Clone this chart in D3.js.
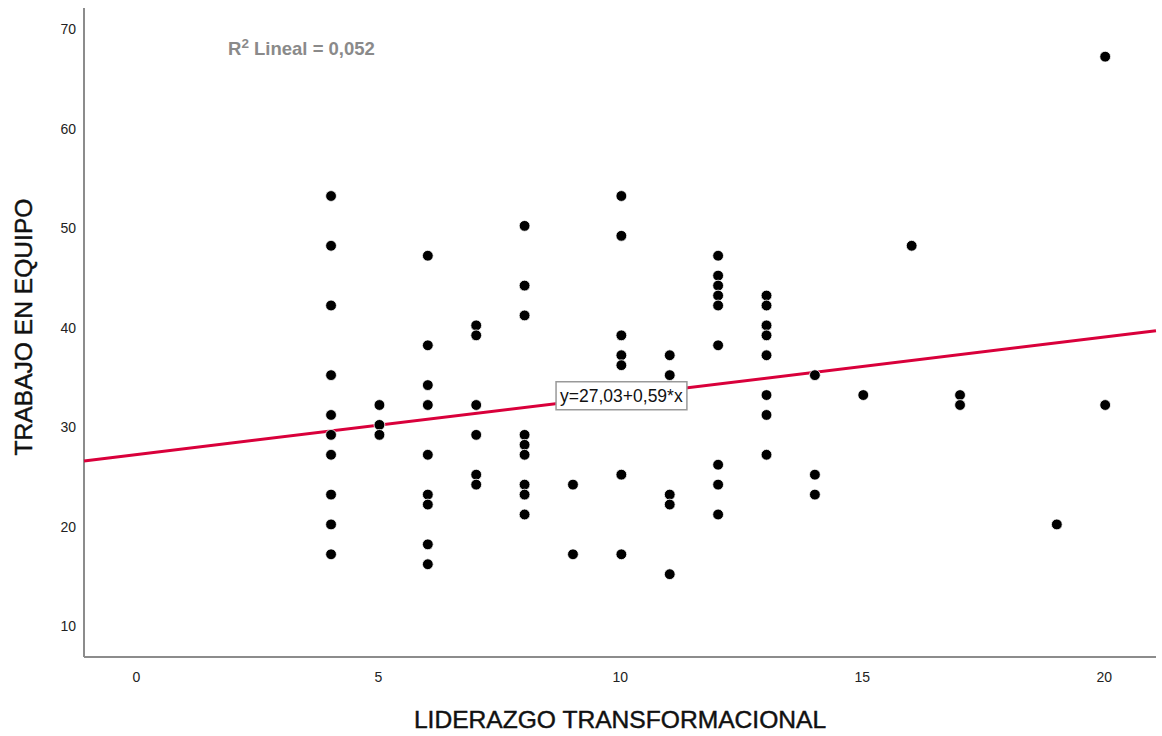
<!DOCTYPE html>
<html>
<head>
<meta charset="utf-8">
<script src="https://cdn.jsdelivr.net/npm/d3@7"></script>
<style>
  html, body { margin: 0; padding: 0; background: #fff; }
  svg { display: block; font-family: "Liberation Sans", Arial, sans-serif; }
</style>
</head>
<body>
<svg id="chart" width="1162" height="736"></svg>
<script>
// Liderazgo transformacional (x) vs. trabajo en equipo (y), one entry per respondent
const liderazgo = [
  4,4,4,4,4,4,4,4,4,4,
  5,5,5,
  6,6,6,6,6,6,6,6,6,
  7,7,7,7,7,7,
  8,8,8,8,8,8,8,8,8,
  9,9,
  10,10,10,10,10,10,10,
  11,11,11,11,11,
  12,12,12,12,12,12,12,12,12,
  13,13,13,13,13,13,13,13,
  14,14,14,
  15,
  16,
  17,17,
  19,
  20,20
];
const trabajoEquipo = [
  53,48,42,35,31,29,27,23,20,17,
  32,30,29,
  47,38,34,32,27,23,22,18,16,
  40,39,32,29,25,24,
  50,44,41,29,28,27,24,23,21,
  24,17,
  53,49,39,37,36,25,17,
  37,35,23,22,15,
  47,45,44,43,42,38,26,24,21,
  43,42,40,39,37,33,31,27,
  35,25,23,
  33,
  48,
  33,32,
  20,
  67,32
];

// Fit line coefficients and summary
const fitIntercept = 27.03;
const fitSlope = 0.59;
const rSquared = "0,052";
const fitLabel = "y=27,03+0,59*x";

const xTicks = [0, 5, 10, 15, 20];
const yTicks = [10, 20, 30, 40, 50, 60, 70];
const xTitle = "LIDERAZGO TRANSFORMACIONAL";
const yTitle = "TRABAJO EN EQUIPO";

const svg = d3.select("#chart");
const plotLeft = 84, plotRight = 1156, plotTop = 8, plotBottom = 657;

const x = d3.scaleLinear().domain([-1.106, 21.05]).range([plotLeft, plotRight]);
const y = d3.scaleLinear().domain([6.68, 71.89]).range([plotBottom, plotTop]);

// Axes (no tick marks, only labels)
const xAxis = d3.axisBottom(x).tickValues(xTicks).tickSize(0).tickPadding(15);
const yAxis = d3.axisLeft(y).tickValues(yTicks).tickSize(0).tickPadding(8);

const gx = svg.append("g").attr("transform", `translate(0,${plotBottom})`).call(xAxis);
const gy = svg.append("g").attr("transform", `translate(${plotLeft},0)`).call(yAxis);

[gx, gy].forEach(g => {
  g.attr("font-size", null).attr("font-family", null);
  g.select(".domain").attr("stroke", "#8c8c8c").attr("stroke-width", 2);
  g.selectAll("text")
    .style("font-size", "14px")
    .style("font-family", "'Liberation Sans', Arial, sans-serif")
    .attr("fill", "#222");
});
gx.selectAll(".tick text").attr("x", -1.5);
gy.selectAll(".tick text").attr("y", 2.5);
gx.select(".domain").attr("d", `M${plotLeft},0H${plotRight}`);
gy.select(".domain").attr("d", `M0,${plotTop}V${plotBottom}`);

// Axis titles
svg.append("text")
  .attr("x", 620).attr("y", 728)
  .attr("text-anchor", "middle")
  .attr("font-size", 24.6)
  .attr("fill", "#111")
  .attr("stroke", "#111")
  .attr("stroke-width", 0.45)
  .text(xTitle);

svg.append("text")
  .attr("transform", "translate(32,327) rotate(-90)")
  .attr("text-anchor", "middle")
  .attr("font-size", 24.6)
  .attr("fill", "#111")
  .attr("stroke", "#111")
  .attr("stroke-width", 0.45)
  .text(yTitle);

// Regression line across the full x domain
const [x0, x1] = x.domain();
svg.append("line")
  .attr("x1", x(x0)).attr("y1", y(fitIntercept + fitSlope * x0))
  .attr("x2", x(x1)).attr("y2", y(fitIntercept + fitSlope * x1))
  .attr("stroke", "#d9003b")
  .attr("stroke-width", 3);

// Data points
const points = liderazgo.map((v, i) => ({ lx: v, ty: trabajoEquipo[i] }));
svg.append("g").selectAll("circle")
  .data(points)
  .join("circle")
  .attr("cx", d => x(d.lx))
  .attr("cy", d => y(d.ty))
  .attr("r", 5.4)
  .attr("fill", "#000")
  .attr("stroke", "#fff")
  .attr("stroke-width", 0.8);

// Equation label box, centred on the fit line at the middle of the x range
const midX = 10;
const lab = svg.append("g")
  .attr("transform", `translate(${x(midX)},${y(fitIntercept + fitSlope * midX)})`);
const labText = lab.append("text")
  .attr("text-anchor", "middle")
  .attr("dy", "0.36em")
  .attr("font-size", 17.5)
  .attr("fill", "#111")
  .text(fitLabel);
const bb = labText.node().getBBox();
lab.insert("rect", "text")
  .attr("x", bb.x - 4).attr("y", -14)
  .attr("width", bb.width + 8).attr("height", 28)
  .attr("fill", "#fff")
  .attr("stroke", "#999")
  .attr("stroke-width", 1.5);

// R squared annotation
const r2 = svg.append("text")
  .attr("x", 228).attr("y", 55)
  .attr("font-size", 18.5)
  .attr("font-weight", "bold")
  .attr("fill", "#8a8a8a");
r2.append("tspan").text("R");
r2.append("tspan").attr("font-size", 13.5).attr("dy", -7).text("2");
r2.append("tspan").attr("dy", 7).text(" Lineal = " + rSquared);
</script>
</body>
</html>
